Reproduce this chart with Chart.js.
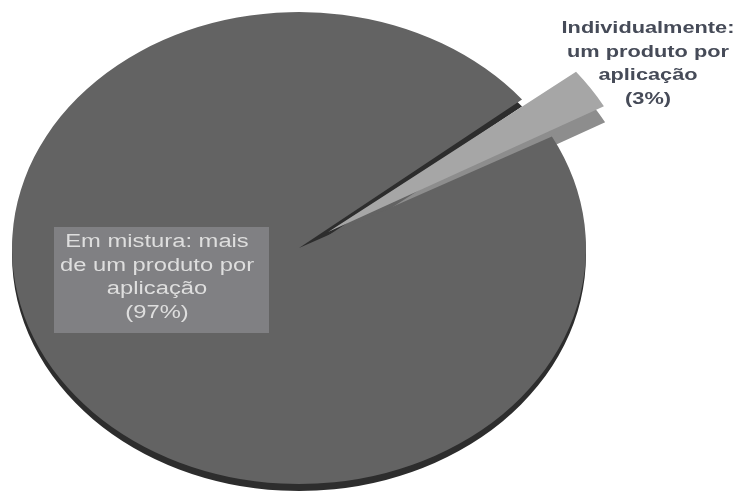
<!DOCTYPE html>
<html>
<head>
<meta charset="utf-8">
<script src="https://cdn.jsdelivr.net/npm/chart.js@4"></script>
<style>
  html,body{margin:0;padding:0;background:#fff;}
  #wrap{width:734px;height:500px;}
</style>
</head>
<body>
<div id="wrap"><canvas id="c" width="734" height="500"></canvas></div>
<script>
// ---- data ----
const categories = [
  'Individualmente: um produto por aplicação',
  'Em mistura: mais de um produto por aplicação'
];
const values = [3, 97];
const labelLines = [
  ['Individualmente:', 'um produto por', 'aplicação', '(3%)'],
  ['Em mistura: mais', 'de um produto por', 'aplicação', '(97%)']
];
const sliceColors = ['#a6a6a6', '#636363'];

// ---- styling constants ----
const SX = 1.216;       // horizontal stretch of pie (perspective)
const DEPTH = 7;        // 3D thickness
const TEXT_SX = 1.32;   // horizontal stretch of text

function offsetShift(arc) {
  const off = (arc.options.offset || 0) / 4;
  const circ = arc.endAngle - arc.startAngle;
  const fix = 1 - Math.sin(Math.min(Math.PI, circ || 0));
  const t = off * (1 + fix);
  const mid = (arc.startAngle + arc.endAngle) / 2;
  return [Math.cos(mid) * t, Math.sin(mid) * t];
}

const pie3d = {
  id: 'pie3d',
  beforeDatasetsDraw(chart) {
    const ctx = chart.ctx;
    const meta = chart.getDatasetMeta(0);
    const cx = meta.data[0].x;
    ctx.save();
    ctx.translate(cx, 0);
    ctx.scale(SX, 1);
    ctx.translate(-cx, 0);
    const small = meta.data[0], big = meta.data[1];
    // cut face filling the gap left by the exploded slice
    const s = offsetShift(small);
    ctx.save();
    ctx.translate(-s[0], -s[1] + DEPTH);
    ctx.filter = 'brightness(0.6)';
    small.draw(ctx);
    ctx.restore();
    // bottom rim of big slice
    ctx.save();
    ctx.translate(0, DEPTH);
    ctx.filter = 'brightness(0.46)';
    big.draw(ctx);
    ctx.restore();
    // side face of the small slice
    ctx.save();
    ctx.translate(1, 16);
    ctx.filter = 'brightness(0.85)';
    small.draw(ctx);
    ctx.restore();
  },
  afterDatasetsDraw(chart) {
    chart.ctx.restore();
  },
  afterDraw(chart) {
    const ctx = chart.ctx;
    ctx.save();
    ctx.textAlign = 'center';
    ctx.textBaseline = 'alphabetic';
    // label for big slice (boxed)
    const big = labelLines[1];
    const bx = 157, by0 = 247, lh = 23.5;
    ctx.fillStyle = '#808083';
    ctx.fillRect(54, 227, 215, 106);
    ctx.font = '18px "Liberation Sans", Arial, sans-serif';
    ctx.fillStyle = '#dedede';
    big.forEach((t, k) => {
      ctx.save();
      ctx.translate(bx, by0 + k * lh);
      ctx.scale(TEXT_SX, 1);
      ctx.fillText(t, 0, 0);
      ctx.restore();
    });
    // label for small slice
    const sm = labelLines[0];
    const sx = 648, sy0 = 33;
    ctx.fillStyle = '#464b58';
    ctx.font = 'bold 16px "Liberation Sans", Arial, sans-serif';
    sm.forEach((t, k) => {
      ctx.save();
      ctx.translate(sx, sy0 + k * 23.7);
      ctx.scale(TEXT_SX * 1.03, 1);
      ctx.fillText(t, 0, 0);
      ctx.restore();
    });
    ctx.restore();
  }
};

new Chart(document.getElementById('c'), {
  type: 'pie',
  data: {
    labels: categories,
    datasets: [{
      data: values,
      backgroundColor: sliceColors,
      borderWidth: 0,
      offset: [115, 0],
      hoverOffset: 0
    }]
  },
  options: {
    responsive: false,
    animation: false,
    events: [],
    rotation: 51,
    radius: 236,
    layout: { padding: { left: 0, top: 0, right: 136, bottom: 4 } },
    plugins: {
      legend: { display: false },
      tooltip: { enabled: false }
    }
  },
  plugins: [pie3d]
});
</script>
</body>
</html>
